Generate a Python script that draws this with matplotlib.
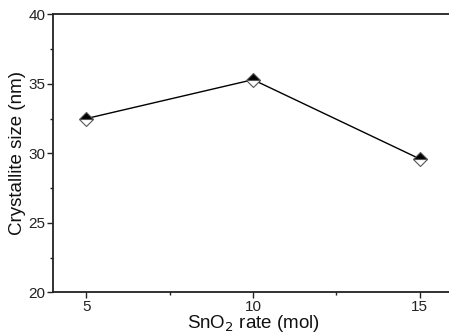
import matplotlib.pyplot as plt
from matplotlib.ticker import MultipleLocator

# SnO2 rate (mol) vs crystallite size (nm)
sno2_rate = [5, 10, 15]
crystallite_size = [32.5, 35.3, 29.6]

plt.rcParams['font.family'] = ['Liberation Sans', 'DejaVu Sans']

fig = plt.figure(figsize=(4.49, 3.34), dpi=100)
ax = fig.add_axes([53 / 449, 0.125, 400 / 449, 0.832])

ax.plot(sno2_rate, crystallite_size, color='black', lw=1.0,
        marker='D', markersize=7, fillstyle='top',
        markerfacecolor='black', markerfacecoloralt='white',
        markeredgecolor='#555555', markeredgewidth=0.8)

ax.set_xlim(4, 16)
ax.set_ylim(20, 40)
ax.xaxis.set_major_locator(MultipleLocator(5))
ax.xaxis.set_minor_locator(MultipleLocator(2.5))
ax.yaxis.set_major_locator(MultipleLocator(5))
ax.yaxis.set_minor_locator(MultipleLocator(2.5))

ax.tick_params(which='major', length=4, width=1, labelsize=11, pad=1.5, colors='#222222')
ax.tick_params(which='minor', length=2.5, width=1, colors='#222222')

for side in ['left', 'bottom', 'top']:
    ax.spines[side].set_linewidth(1.3)
    ax.spines[side].set_color('#222222')
ax.spines['right'].set_visible(False)

ax.set_xlabel('SnO$_2$ rate (mol)', fontsize=13.5, labelpad=-0.3, color='#111111')
ax.set_ylabel('Crystallite size (nm)', fontsize=13.5, labelpad=2, color='#111111')

fig.savefig('out.png', dpi=100)
